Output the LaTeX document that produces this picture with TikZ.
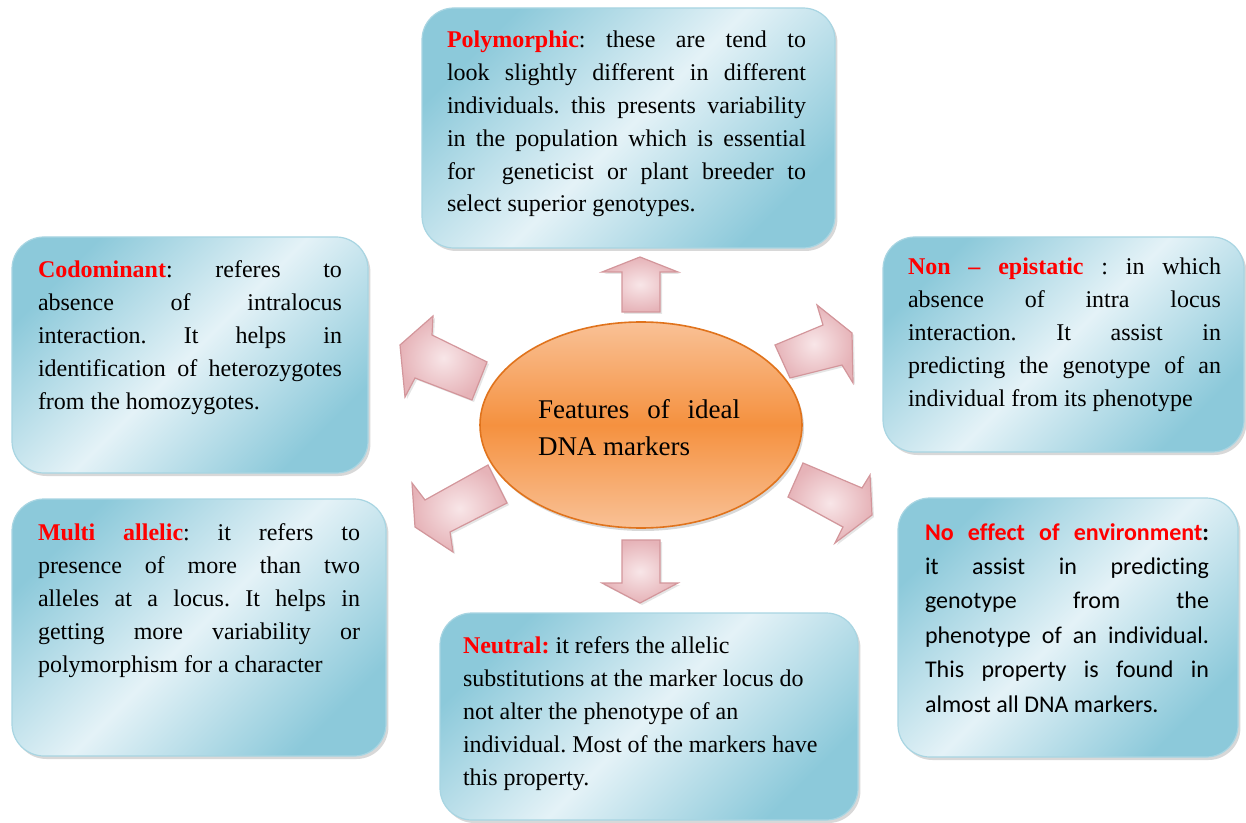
\documentclass[tikz,border=0pt]{standalone}
\usepackage{fontspec}
\setmainfont{Liberation Serif}
\newfontfamily\calibri[Ligatures=NoCommon]{Carlito}
\usetikzlibrary{shapes.geometric,shadows}
\definecolor{bdark}{HTML}{8CC9DA}
\definecolor{blight}{HTML}{E4F2F7}
\definecolor{bborder}{HTML}{A8D5E2}
\definecolor{olight}{HTML}{F9C196}
\definecolor{omid}{HTML}{F5913F}
\definecolor{oborder}{HTML}{E0731C}
\definecolor{plight}{HTML}{F8E6E8}
\definecolor{pdark}{HTML}{E6B3B8}
\definecolor{pborder}{HTML}{D3969B}
\definecolor{kred}{HTML}{FF0000}
\newcommand{\resetsp}{\spaceskip=0pt\xspaceskip=0pt\frenchspacing}
\newcommand{\justline}[1]{\makebox[\hsize][s]{#1}}
\newcommand{\redb}[1]{\textcolor{kred}{\textbf{#1}}}
\frenchspacing
\begin{document}
\begin{tikzpicture}[x=0.5pt,y=-0.5pt,
  box/.style={rectangle, rounded corners=16pt, draw=bborder, line width=0.6pt,
    top color=bdark, bottom color=bdark, middle color=blight, shading angle=45,
    drop shadow={opacity=0.3, shadow xshift=1.2pt, shadow yshift=-1.5pt},
    inner sep=0pt, outer sep=0pt},
  txt/.style={anchor=base west, inner sep=0pt, outer sep=0pt, align=left,
    font=\fontsize{12}{16.5}\selectfont},
  arr/.style={draw=pborder, line width=0.6pt, inner color=plight, outer color=pdark,
    drop shadow={opacity=0.2, shadow xshift=1pt, shadow yshift=-1pt}},
]
\fill[white] (0,0) rectangle (1246,823);
\useasboundingbox (0,0) rectangle (1246,823);

% boxes
\node[box, minimum width=206.5pt, minimum height=120pt] (poly) at (628.5,128) {};
\node[box, minimum width=178pt, minimum height=118pt] (codom) at (190,355) {};
\node[box, minimum width=180.5pt, minimum height=107.5pt] (nonepi) at (1063.5,344.5) {};
\node[box, minimum width=187pt, minimum height=128.5pt] (multi) at (199,627.5) {};
\node[box, minimum width=170pt, minimum height=129.5pt] (noeff) at (1068,627.5) {};
\node[box, minimum width=209pt, minimum height=103.5pt] (neutral) at (649,716.5) {};

% centre ellipse
\node[ellipse, minimum width=161pt, minimum height=103pt, draw=oborder, line width=0.8pt,
  top color=olight, bottom color=olight, middle color=omid,
  drop shadow={opacity=0.3, shadow xshift=1pt, shadow yshift=-1.5pt}, inner sep=0pt] (centre) at (641,425) {};
\node[txt, font=\fontsize{13.5}{18.5}\selectfont, text width=101pt] (ctext) at (538,418)
  {\resetsp\justline{Features of ideal}\\DNA markers};

% block arrows
\path[arr] (640,257) -- (678,272) -- (660,272) -- (660,312) -- (622,312) -- (622,272) -- (602,272) -- cycle;
\path[arr] (622,540) -- (660,540) -- (660,583) -- (678,583) -- (640,603) -- (602,583) -- (622,583) -- cycle;
\path[arr] (487,362) -- (432,335) -- (433,316) -- (400,345) -- (405,397) -- (415,378) -- (472,400) -- cycle;
\path[arr] (775,345) -- (823,325) -- (817,305) -- (852,333) -- (853,383) -- (842,365) -- (790,378) -- cycle;
\path[arr] (488,465) -- (507,503) -- (450,532) -- (453,552) -- (415,527) -- (412,483) -- (425,500) -- cycle;
\path[arr] (803,463) -- (862,488) -- (870,475) -- (872,515) -- (835,543) -- (843,527) -- (788,497) -- cycle;

% texts
\node[txt, text width=179.5pt, font=\fontsize{12}{16.4}\selectfont] (tpoly) at (447,48) {\resetsp
\justline{\redb{Polymorphic}: these are tend to}\\
\justline{look slightly different in different}\\
\justline{individuals. this presents variability}\\
\justline{in the population which is essential}\\
\justline{for\ \ geneticist or plant breeder to}\\
select superior genotypes.};

\node[txt, text width=152pt] (tcodom) at (38,278) {\resetsp
\justline{\redb{Codominant}: referes to}\\
\justline{absence of intralocus}\\
\justline{interaction. It helps in}\\
\justline{identification of heterozygotes}\\
from the homozygotes.};

\node[txt, text width=156.5pt] (tnonepi) at (908,275) {\resetsp
\justline{\redb{Non -- epistatic} : in which}\\
\justline{absence of intra locus}\\
\justline{interaction. It assist in}\\
\justline{predicting the genotype of an}\\
individual from its phenotype};

\node[txt, text width=161pt] (tmulti) at (38,540) {\resetsp
\justline{\redb{Multi allelic}: it refers to}\\
\justline{presence of more than two}\\
\justline{alleles at a locus. It helps in}\\
\justline{getting more variability or}\\
polymorphism for a character};

\node[txt, text width=142pt, font=\calibri\fontsize{12}{17.2}\selectfont] (tnoeff) at (925,540) {\resetsp
\justline{\redb{No effect of environment}\textbf{:}}\\
\justline{it assist in predicting}\\
\justline{genotype from the}\\
\justline{phenotype of an individual.}\\
\justline{This property is found in}\\
almost all DNA markers.};

\node[txt, text width=190pt] (tneutral) at (463,653) {\resetsp
\redb{Neutral:} it refers the allelic\\
substitutions at the marker locus do\\
not alter the phenotype of an\\
individual. Most of the markers have\\
this property.};
\end{tikzpicture}
\end{document}
